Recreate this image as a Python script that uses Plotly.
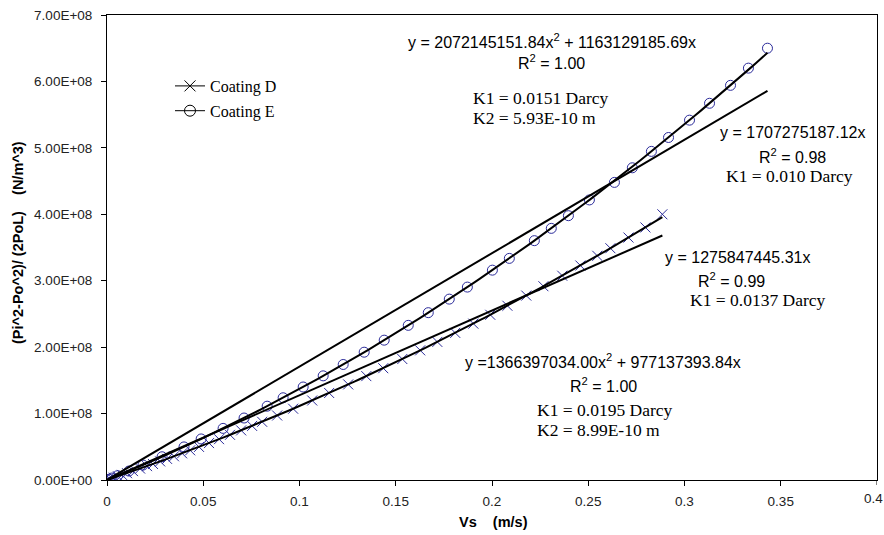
import numpy as np
import plotly.graph_objects as go

# ---- data ----
vs_D = [0, 0.0016, 0.0036, 0.0057, 0.0078, 0.0104, 0.0135, 0.0172, 0.0208, 0.0239,
        0.0276, 0.0312, 0.0348, 0.0390, 0.0432, 0.0478, 0.0530, 0.0582, 0.0639, 0.0697,
        0.0754, 0.0806, 0.0884, 0.0967, 0.1066, 0.1154, 0.1253, 0.1347, 0.1435, 0.1534,
        0.1627, 0.1716, 0.1809, 0.1903, 0.1991, 0.2080, 0.2178, 0.2267, 0.2365, 0.2459,
        0.2547, 0.2615, 0.2709, 0.2797, 0.2885]
dp_D = [0, 0.016, 0.035, 0.056, 0.077, 0.103, 0.134, 0.172, 0.209, 0.241,
        0.280, 0.318, 0.357, 0.402, 0.447, 0.498, 0.556, 0.615, 0.680, 0.747,
        0.814, 0.876, 0.971, 1.073, 1.197, 1.310, 1.439, 1.564, 1.683, 1.821,
        1.952, 2.079, 2.215, 2.354, 2.487, 2.623, 2.776, 2.917, 3.075, 3.229,
        3.375, 3.489, 3.650, 3.802, 4.000]  # x 1e8

vs_E = [0, 0.0010, 0.0026, 0.0055, 0.0114, 0.0187, 0.0286, 0.0400, 0.0489, 0.0603,
        0.0712, 0.0832, 0.0915, 0.1019, 0.1123, 0.1227, 0.1336, 0.1440, 0.1565, 0.1669,
        0.1778, 0.1872, 0.2002, 0.2090, 0.2220, 0.2308, 0.2397, 0.2506, 0.2636, 0.2729,
        0.2828, 0.2917, 0.3026, 0.3130, 0.3239, 0.3332, 0.3431]
dp_E = [0, 0.012, 0.030, 0.065, 0.135, 0.225, 0.350, 0.498, 0.618, 0.777,
        0.933, 1.111, 1.238, 1.400, 1.568, 1.739, 1.924, 2.105, 2.328, 2.519,
        2.723, 2.904, 3.159, 3.336, 3.603, 3.788, 3.979, 4.216, 4.480, 4.700,
        4.947, 5.156, 5.417, 5.671, 5.941, 6.200, 6.500]  # x 1e8

# trendline coefficients as printed on the chart
quad_D = [1366397034.00, 977137393.84]
lin_D = 1275847445.31
quad_E = [2072145151.84, 1163129185.69]
lin_E = 1707275187.12

x_ticks = [0, 0.05, 0.1, 0.15, 0.2, 0.25, 0.3, 0.35]
x_ticktext = ["0", "0.05", "0.1", "0.15", "0.2", "0.25", "0.3", "0.35"]
x_last_tick = 0.4
x_last_text = "0.4"
y_ticks = [0, 1e8, 2e8, 3e8, 4e8, 5e8, 6e8, 7e8]
y_ticktext = ["0.00E+00", "1.00E+08", "2.00E+08", "3.00E+08", "4.00E+08",
              "5.00E+08", "6.00E+08", "7.00E+08"]

# ---- figure ----
W, H = 884, 535
ML, MR, MT, MB = 107, 7, 15, 55
MARK = "#2b2b9a"

fig = go.Figure()

yD = [v * 1e8 for v in dp_D]
yE = [v * 1e8 for v in dp_E]

fig.add_trace(go.Scatter(x=vs_D, y=yD, mode="markers", showlegend=False,
                         marker=dict(symbol="x-thin-open", size=10, color=MARK,
                                     line=dict(color=MARK, width=1))))
fig.add_trace(go.Scatter(x=vs_E, y=yE, mode="markers", showlegend=False,
                         marker=dict(symbol="circle-open", size=10, color=MARK,
                                     line=dict(color=MARK, width=1))))

# trendlines
tD = np.linspace(0, max(vs_D), 120)
tE = np.linspace(0, max(vs_E), 120)
for xs, ys in [
    (tD, quad_D[0] * tD**2 + quad_D[1] * tD),
    (tD, lin_D * tD),
    (tE, quad_E[0] * tE**2 + quad_E[1] * tE),
    (tE, lin_E * tE),
]:
    fig.add_trace(go.Scatter(x=xs, y=ys, mode="lines", showlegend=False,
                             line=dict(color="black", width=2), hoverinfo="skip"))

# legend entries
fig.add_trace(go.Scatter(x=[None], y=[None], mode="lines+markers", name="Coating D",
                         legendgroup="D",
                         line=dict(color="black", width=1),
                         marker=dict(symbol="x-thin-open", size=11, color="black",
                                     line=dict(color="black", width=1))))
fig.add_trace(go.Scatter(x=[None], y=[None], mode="lines+markers", name="Coating E",
                         legendgroup="E",
                         line=dict(color="black", width=1),
                         marker=dict(symbol="circle-open", size=11, color="black",
                                     line=dict(color="black", width=1))))

pw = W - ML - MR
ph = H - MT - MB


def px(x):
    return (x - ML) / pw


def py(y):
    return (H - MB - y) / ph


SANS = "Liberation Sans, Arial, sans-serif"
SERIF = "Liberation Serif, Times New Roman, serif"

# (x, y, text, font, size, anchor)
labels = [
    (552, 41, "y = 2072145151.84x<sup>2</sup> + 1163129185.69x", SANS, 16, "center"),
    (551, 62, "R<sup>2</sup> = 1.00", SANS, 16, "center"),
    (471, 98, "K1 = 0.0151 Darcy", SERIF, 17.5, "left"),
    (471, 118, "K2 = 5.93E-10 m", SERIF, 17.5, "left"),
    (792, 132, "y = 1707275187.12x", SANS, 16, "center"),
    (792, 156, "R<sup>2</sup> = 0.98", SANS, 16, "center"),
    (724, 176, "K1 = 0.010 Darcy", SERIF, 17.5, "left"),
    (737, 257, "y = 1275847445.31x", SANS, 16, "center"),
    (731, 280, "R<sup>2</sup> = 0.99", SANS, 16, "center"),
    (688, 300, "K1 = 0.0137 Darcy", SERIF, 17.5, "left"),
    (603, 361, "y =1366397034.00x<sup>2</sup> + 977137393.84x", SANS, 16, "center"),
    (603, 385, "R<sup>2</sup> = 1.00", SANS, 16, "center"),
    (535, 410, "K1 = 0.0195 Darcy", SERIF, 17.5, "left"),
    (535, 430, "K2 = 8.99E-10 m", SERIF, 17.5, "left"),
]
annotations = []
for x, y, t, f, s, a in labels:
    annotations.append(dict(x=px(x), y=py(y), xref="paper", yref="paper", text=t,
                            showarrow=False, xanchor=a, yanchor="middle",
                            font=dict(family=f, size=s, color="black")))

# last x tick label (sits at the page edge)
annotations.append(dict(x=x_last_tick, y=0, xref="x", yref="paper", yshift=-18,
                        xshift=-4,
                        text=x_last_text, showarrow=False, xanchor="center",
                        yanchor="middle",
                        font=dict(family=SANS, size=13.5, color="#222222")))

annotations.append(dict(x=px(457), y=py(522), xref="paper", yref="paper",
                        text="<b>Vs&nbsp;&nbsp;&nbsp;&nbsp;(m/s)</b>", showarrow=False,
                        xanchor="left", yanchor="middle",
                        font=dict(family=SANS, size=14.5, color="black")))
annotations.append(dict(x=px(18), y=py(243), xref="paper", yref="paper",
                        text="<b>(Pi^2-Po^2)/ (2PoL)&nbsp;&nbsp;&nbsp;&nbsp;(N/m^3)</b>",
                        showarrow=False,
                        textangle=-90, xanchor="center", yanchor="middle",
                        font=dict(family=SANS, size=14.5, color="black")))

# tick mark at the last x position (label drawn as annotation)
shapes = [dict(type="line", xref="x", yref="paper", x0=x_last_tick, x1=x_last_tick,
               y0=0, y1=-5 / ph, line=dict(color="black", width=1))]

fig.update_layout(
    width=W, height=H,
    margin=dict(l=ML, r=MR, t=MT, b=MB, autoexpand=False),
    paper_bgcolor="white", plot_bgcolor="white",
    showlegend=True,
    legend=dict(x=px(170), y=py(69), xanchor="left", yanchor="top",
                bgcolor="rgba(0,0,0,0)", borderwidth=0,
                font=dict(family=SERIF, size=16, color="black"),
                tracegroupgap=1, itemwidth=30),
    annotations=annotations,
    shapes=shapes,
    xaxis=dict(range=[0, 0.4], tickvals=x_ticks, ticktext=x_ticktext,
               automargin=False,
               showgrid=False, zeroline=False, showline=True, linecolor="black",
               linewidth=1, mirror=True, ticks="outside", ticklen=5,
               tickcolor="black", ticklabelstandoff=4,
               tickfont=dict(family=SANS, size=13.5, color="#222222")),
    yaxis=dict(range=[0, 7e8], tickvals=y_ticks, ticktext=y_ticktext,
               automargin=False,
               showgrid=False, zeroline=False, showline=True, linecolor="black",
               linewidth=1, mirror=True, ticks="outside", ticklen=5,
               tickcolor="black", ticklabelstandoff=6,
               tickfont=dict(family=SANS, size=13.5, color="#222222")),
)

fig.write_html("out.html")
